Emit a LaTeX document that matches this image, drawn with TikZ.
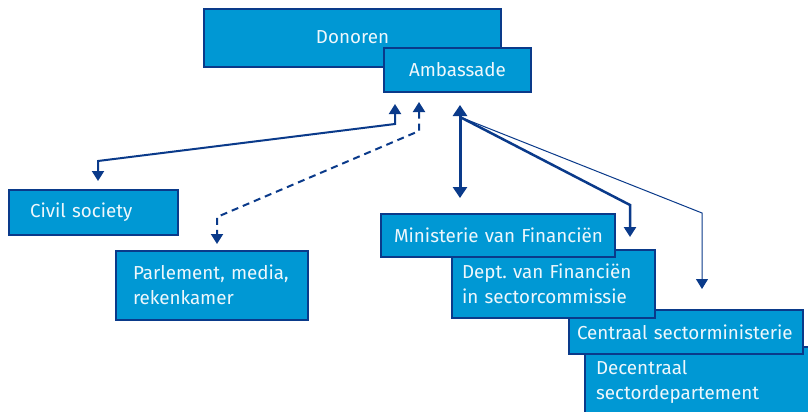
\documentclass[tikz,border=0pt]{standalone}
\usepackage{fontspec}
\setmainfont{Fira Sans}
\usetikzlibrary{arrows.meta,calc}
\definecolor{boxfill}{HTML}{0098D4}
\definecolor{dblue}{HTML}{0A3A8A}
\definecolor{txt}{HTML}{EEF7FC}
\begin{document}
\begin{tikzpicture}[x=1pt,y=-1pt,
  box/.style={draw=dblue, line width=2pt, fill=boxfill, text=txt,
    font=\fontsize{18.8}{25}\selectfont, inner ysep=0pt, anchor=north west},
  lbox/.style={box, align=left},
  conn/.style={draw=dblue, line width=2pt, line join=miter,
    -{Triangle[width=12pt,length=10pt]}},
  both/.style={conn, {Triangle[width=14pt,length=11pt]}-{Triangle[width=14pt,length=11pt]}}
]
\useasboundingbox (0,0) rectangle (808,412);
\fill[white] (0,0) rectangle (808,412);

% top boxes
\node[box, minimum width=297pt, minimum height=58pt, align=center] (don) at (203,8) {\raisebox{2pt}{Donoren}};
\node[box, minimum width=147pt, minimum height=44pt, align=center] (amb) at (383,47) {Ambassade};

% left boxes
\node[lbox, minimum height=45pt, inner xsep=21pt, text width=127pt] (civ) at (8,189) {\mbox{Civil society}};
\node[lbox, minimum height=69pt, inner xsep=17pt, text width=158pt] (par) at (115,250) {\raisebox{2pt}{Parlement, media,}\\\raisebox{2pt}{rekenkamer}};

% staircase boxes (drawn bottom-up)
\node[lbox, minimum height=70pt, inner xsep=11pt, text width=218pt] (dec) at (584,346) {Decentraal\\sectordepartement};
\node[lbox, minimum height=44pt, inner xsep=8pt, text width=218pt] (cen) at (568,309) {\mbox{Centraal sectorministerie}};
\node[lbox, minimum height=68pt, inner xsep=10pt, text width=183pt] (dep) at (451,249) {Dept.\ van Financiën\\in sectorcommissie};
\node[lbox, minimum height=43pt, inner xsep=13pt, text width=208pt] (min) at (380,213) {\mbox{Ministerie van Financiën}};

% connector end points
\coordinate (aCiv) at ($(amb.south west)+(12,11)$);
\coordinate (aPar) at ($(amb.south west)+(36,9)$);
\coordinate (aMin) at ($(amb.south west)+(77,12)$);
\coordinate (aFan) at ($(amb.south west)+(77,24)$);
\coordinate (eCiv) at ($(civ.north west)+(90,-8)$);
\coordinate (ePar) at ($(par.north west)+(102,-6)$);
\coordinate (eMin) at ($(min.north west)+(80,-15)$);
\coordinate (eDep) at ($(dep.north west)+(179,-12)$);
\coordinate (eCen) at ($(cen.north west)+(134,-20)$);

% connectors
\draw[conn, {Triangle[width=12pt,length=10pt]}-{Triangle[width=12pt,length=10pt]}]
  (aCiv) -- ++(0,20) -- ($(eCiv)+(0,-20)$) -- (eCiv);
\draw[conn, dash pattern=on 7pt off 5pt, {Triangle[width=12pt,length=10pt]}-{Triangle[width=12pt,length=10pt]}]
  (aPar) -- ++(0,29) -- ($(ePar)+(0,-27)$) -- (ePar);
\draw[both, line width=3pt] (aMin) -- (eMin);
\draw[conn, line width=2.5pt] (aFan) -- ($(eDep)+(0,-32)$) -- (eDep);
\draw[conn, line width=1pt] (aFan) -- ($(eCen)+(0,-76)$) -- (eCen);
\end{tikzpicture}
\end{document}
